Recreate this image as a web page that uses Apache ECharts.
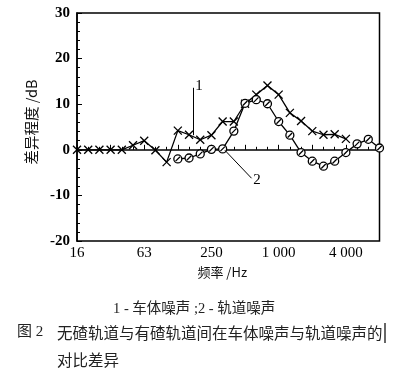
<!DOCTYPE html>
<html>
<head>
<meta charset="utf-8">
<script src="https://cdn.jsdelivr.net/npm/echarts@6/dist/echarts.min.js"></script>
<style>html,body{margin:0;padding:0;background:#fff;}#c{width:400px;height:368px;}</style>
</head>
<body>
<div id="c"></div>
<script>
// 1/3-octave band centre frequencies (Hz)
var freqs = [16,20,25,31.5,40,50,63,80,100,125,160,200,250,315,400,500,630,800,1000,1250,1600,2000,2500,3150,4000,5000,6300,8000];
// tick labels shown on the frequency axis
var tickLabels = {16:'16', 63:'63', 250:'250', 1000:'1 000', 4000:'4 000'};
// curve 1: 车体噪声 (dB difference)
var carBody = [0,0,0,0,0,1,2,-0.1,-2.7,4.2,3.3,2.2,3.2,6.2,6.2,10.1,12.1,14.1,12.1,8.1,6.3,4.1,3.3,3.4,2.4,null,null,null];
// curve 2: 轨道噪声 (dB difference)
var track = [null,null,null,null,null,null,null,null,null,-2.0,-1.8,-0.9,0.1,0.2,4.1,10.2,11.0,10.1,6.2,3.2,-0.6,-2.5,-3.6,-2.5,-0.6,1.3,2.3,0.4];
// y ticks
var yMin = -20, yMax = 30, yStep = 10;

var serif = "'Liberation Serif','Noto Sans CJK SC'";
var cjk = "'Noto Sans CJK SC','Liberation Serif'";

function pairs(arr){ return arr.map(function(v,i){ return [i, v === null ? '-' : v]; }); }

var chart = echarts.init(document.getElementById('c'), null, {renderer:'canvas'});
chart.setOption({
  animation:false,
  backgroundColor:'#fff',
  grid:{left:77, right:20.5, top:13, bottom:127, show:true, borderColor:'#000', borderWidth:1.5, backgroundColor:'transparent'},
  xAxis:{
    type:'value', min:0, max:freqs.length-1, interval:3,
    name:'频率 /Hz', nameLocation:'middle', nameGap:22,
    nameTextStyle:{fontFamily:cjk, fontSize:13, color:'#111', padding:[0,12,0,0]},
    axisLine:{show:true, lineStyle:{color:'#000', width:1.5}},
    axisTick:{show:true, inside:true, length:5, lineStyle:{color:'#000', width:1}},
    minorTick:{show:true, splitNumber:3, length:3, lineStyle:{color:'#000', width:1}},
    splitLine:{show:false},
    axisLabel:{
      fontFamily:serif, fontSize:15, color:'#000', margin:5,
      formatter:function(v){ var f = freqs[Math.round(v)]; return tickLabels[f] || ''; }
    }
  },
  yAxis:{
    type:'value', min:yMin, max:yMax, interval:yStep,
    name:'差异程度 /dB', nameLocation:'middle', nameGap:32, nameRotate:90,
    nameTextStyle:{fontFamily:cjk, fontSize:14.5, color:'#111', padding:[0,0,0,10]},
    axisLine:{show:true, lineStyle:{color:'#000', width:1.5}},
    axisTick:{show:true, inside:true, length:5, lineStyle:{color:'#000', width:1}},
    minorTick:{show:true, splitNumber:5, length:3, lineStyle:{color:'#000', width:1}},
    splitLine:{show:false},
    axisLabel:{fontFamily:serif, fontSize:15, fontWeight:'bold', color:'#000', margin:7}
  },
  series:[
    {
      name:'1', type:'line', data:pairs(carBody),
      symbol:'path://M0,0L10,10M10,0L0,10', symbolSize:8,
      lineStyle:{color:'#000', width:1.3},
      itemStyle:{color:'none', borderColor:'#000', borderWidth:1.3},
      z:2,
      markLine:{
        silent:true, symbol:'none', animation:false,
        lineStyle:{color:'#000', width:1, type:'solid'},
        label:{show:false},
        data:[[{coord:[10.38,3.2]},{coord:[10.38,13.6]}]]
      },
      markPoint:{
        silent:true, symbol:'circle', symbolSize:1, itemStyle:{color:'rgba(0,0,0,0)'},
        label:{show:true, position:'inside', formatter:'{b}', fontFamily:serif, fontSize:15, color:'#000'},
        data:[{name:'1', coord:[10.88,13.95]}]
      }
    },
    {
      name:'2', type:'line', data:pairs(track),
      symbol:'path://M0,5A5,5 0 1,1 10,5A5,5 0 1,1 0,5ZM2.2,7.8L7.8,2.2', symbolSize:8,
      lineStyle:{color:'#000', width:1.3},
      itemStyle:{color:'#fff', borderColor:'#000', borderWidth:1.3},
      z:3,
      markLine:{
        silent:true, symbol:'none', animation:false,
        lineStyle:{color:'#000', width:1, type:'solid'},
        label:{show:false},
        data:[[{coord:[13.2,-0.1]},{coord:[15.58,-6.24]}]]
      },
      markPoint:{
        silent:true, symbol:'circle', symbolSize:1, itemStyle:{color:'rgba(0,0,0,0)'},
        label:{show:true, position:'inside', formatter:'{b}', fontFamily:serif, fontSize:15, color:'#000'},
        data:[{name:'2', coord:[16.06,-6.7]}]
      }
    }
  ],
  graphic:[
    {type:'text', left:113, top:302, style:{text:'1 - 车体噪声 ;2 - 轨道噪声', fontFamily:"'Liberation Serif','Noto Sans CJK SC'", fontSize:14.5, fill:'#222'}},
    {type:'text', left:17, top:325, style:{text:'图 2', fontFamily:"'Liberation Serif','Noto Sans CJK SC'", fontSize:15, fill:'#222'}},
    {type:'text', left:57, top:325, style:{text:'无碴轨道与有碴轨道间在车体噪声与轨道噪声的', fontFamily:"'Noto Sans CJK SC'", fontSize:15.5, fill:'#222'}},
    {type:'text', left:57, top:352, style:{text:'对比差异', fontFamily:"'Noto Sans CJK SC'", fontSize:15.5, fill:'#222'}},
    {type:'line', shape:{x1:385, y1:323, x2:385, y2:343}, style:{stroke:'#000', lineWidth:1.2}}
  ]
});
</script>
</body>
</html>
